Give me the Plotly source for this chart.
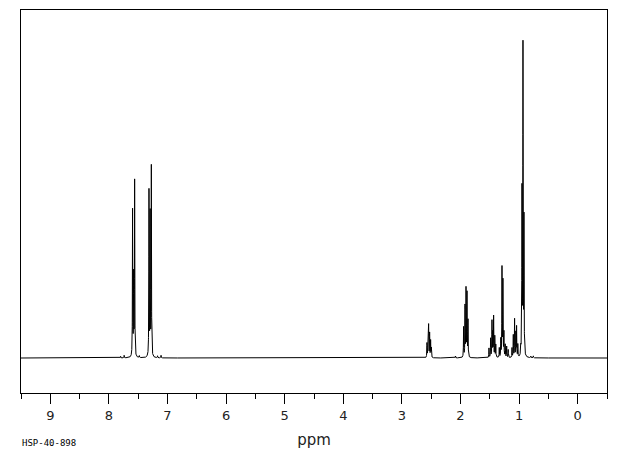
import numpy as np
import plotly.graph_objects as go

# Peak list (chemical shift in ppm, relative height)
peak_ppm = [
    7.800, 7.740, 7.596, 7.578, 7.561, 7.480, 7.316, 7.296, 7.276, 7.170, 7.110,
    2.572, 2.555, 2.544, 2.527, 2.510, 2.498, 2.085,
    1.947, 1.923, 1.906, 1.889, 1.872,
    1.514, 1.486, 1.463, 1.449, 1.435, 1.415, 1.398,
    1.338, 1.312, 1.292, 1.276, 1.259, 1.237, 1.212, 1.186,
    1.121, 1.099, 1.077, 1.056, 1.043, 1.022,
    0.971, 0.951, 0.934, 0.917, 0.800, 0.757,
]
peak_height = [
    0.5, 0.8, 46.0, 25.0, 55.2, 0.6, 52.0, 44.5, 59.6, 0.6, 0.8,
    4.5, 7.0, 10.0, 7.6, 5.3, 3.0, 0.6,
    9.5, 16.0, 21.3, 20.0, 11.5,
    3.0, 6.0, 11.4, 7.5, 12.8, 6.6, 4.0,
    3.0, 5.6, 28.0, 23.8, 7.6, 4.0, 3.5, 2.5,
    3.0, 7.0, 12.0, 7.6, 9.5, 4.0,
    5.0, 51.5, 97.0, 42.5, 0.5, 0.6,
]
line_hwhm = 0.003  # ppm

ppm_axis = np.linspace(9.5, -0.5, 20001)
spectrum = np.zeros_like(ppm_axis)
for p, h in zip(peak_ppm, peak_height):
    spectrum += h * line_hwhm**2 / ((ppm_axis - p) ** 2 + line_hwhm**2)

tick_vals = [9, 8, 7, 6, 5, 4, 3, 2, 1, 0]
tick_text = [str(v) for v in tick_vals]

fig = go.Figure()
fig.add_trace(go.Scatter(
    x=ppm_axis, y=spectrum, mode="lines",
    line=dict(color="black", width=1), hoverinfo="skip", showlegend=False,
))

fig.update_layout(
    width=620, height=455,
    margin=dict(l=13, r=21, t=2, b=70),
    paper_bgcolor="white", plot_bgcolor="white",
    font=dict(family="DejaVu Sans", color="black"),
    xaxis=dict(
        range=[9.5, -0.5], showgrid=False, zeroline=False,
        showline=True, mirror=True, linecolor="black", linewidth=1,
        ticks="outside", ticklen=10, tickwidth=1, tickcolor="black",
        tickvals=tick_vals, ticktext=tick_text,
        tickfont=dict(family="DejaVu Sans", size=13, color="#222"),
        minor=dict(ticks="outside", ticklen=5, tickwidth=1, tickcolor="black", dtick=0.5, tick0=0),
        title=dict(text="ppm", font=dict(family="DejaVu Sans", size=15, color="#222"), standoff=12),
    ),
    yaxis=dict(
        range=[-11.0, 109.4], showgrid=False, zeroline=False,
        showline=True, mirror=True, linecolor="black", linewidth=1,
        showticklabels=False, ticks="",
    ),
    annotations=[dict(
        text="HSP-40-898", xref="paper", yref="paper", x=-0.002, y=-0.13,
        xanchor="left", yanchor="middle", showarrow=False,
        font=dict(family="DejaVu Sans Mono", size=9, color="black"),
    )],
)

fig.write_html("out.html")
